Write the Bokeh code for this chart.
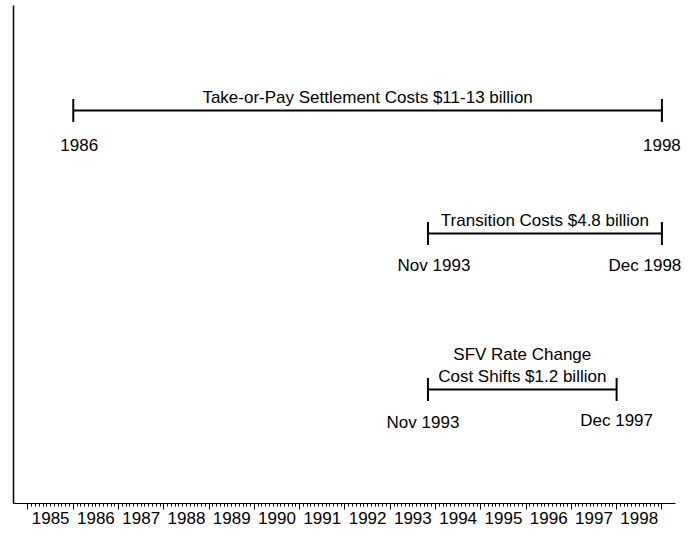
import numpy as np
from bokeh.plotting import figure
from bokeh.models import (ColumnDataSource, Range1d, FixedTicker, LinearAxis,
                          CustomJSTickFormatter, LabelSet)
from bokeh.core.properties import value
from bokeh.embed import file_html
from bokeh.resources import INLINE

# ---- data ----
events = ["Take-or-Pay Settlement Costs $11-13 billion",
          "Transition Costs $4.8 billion",
          "SFV Rate Change|Cost Shifts $1.2 billion"]
start_year = [1986, 1993, 1993]
start_month = [1, 11, 11]
end_year = [1998, 1998, 1997]
end_month = [12, 12, 12]
start_labels = ["1986", "Nov 1993", "Nov 1993"]
end_labels = ["1998", "Dec 1998", "Dec 1997"]
axis_years = list(range(1985, 1999))

# ---- layout / style ----
row_y = [393, 270, 114]
start_dx = [6, 6, -5]
end_dx = [0, -17, 0]
start_dy = [40, 37, 38]
end_dy = [40, 37, 36]
FONT = "Liberation Sans"
FS = "17px"
X0, X_AXIS_END, X1 = 1984.68, 1999.30, 1999.786

start = [y + (m - 1) / 12 for y, m in zip(start_year, start_month)]
end = [y + m / 12 for y, m in zip(end_year, end_month)]

p = figure(width=697, height=541, output_backend="svg",
           toolbar_location=None, x_range=Range1d(X0, X1),
           y_range=Range1d(0, 498), min_border_left=13, min_border_right=0,
           min_border_top=5, min_border_bottom=38)
p.outline_line_color = None
p.grid.visible = False
p.background_fill_color = "white"
p.border_fill_color = "white"

# left axis: just a line
p.yaxis.ticker = FixedTicker(ticks=[])
p.yaxis.major_tick_out = 0
p.yaxis.major_tick_in = 0
p.yaxis.minor_tick_out = 0
p.yaxis.minor_tick_in = 0
p.yaxis.major_label_standoff = 0
p.yaxis.axis_line_width = 1.5
p.yaxis.axis_line_color = "black"

# bottom axis: year boundary ticks + monthly minor ticks
boundaries = axis_years + [axis_years[-1] + 1]
months = [y + m / 12 for y in axis_years for m in range(1, 12)]
xa = p.xaxis[0]
xa.bounds = (X0, X_AXIS_END)
xa.ticker = FixedTicker(ticks=boundaries, minor_ticks=months)
xa.formatter = CustomJSTickFormatter(code="return '';")
xa.major_tick_out = 6
xa.major_tick_in = 0
xa.minor_tick_out = 3
xa.minor_tick_in = 0
xa.major_tick_line_color = "black"
xa.minor_tick_line_color = "black"
xa.axis_line_color = "black"
xa.axis_line_width = 1
xa.major_label_standoff = 0

lab_axis = LinearAxis(
    ticker=FixedTicker(ticks=[y + 0.5 for y in axis_years], minor_ticks=[]),
    formatter=CustomJSTickFormatter(code="return Math.floor(tick).toString();"),
    axis_line_color=None, major_tick_line_color=None, minor_tick_line_color=None,
    major_tick_out=0, major_tick_in=0, minor_tick_out=0, minor_tick_in=0,
    major_label_standoff=2, major_label_text_font=FONT,
    major_label_text_font_size=FS, major_label_text_color="black")
p.add_layout(lab_axis, "below")

# spans
src = ColumnDataSource(dict(x0=start, x1=end, y=row_y))
p.segment(x0="x0", x1="x1", y0="y", y1="y", source=src,
          line_color="black", line_width=2)
cap_src = ColumnDataSource(dict(x=start + end, y=row_y + row_y))
p.scatter(x="x", y="y", source=cap_src, marker="dash", angle=np.pi / 2,
          size=23, line_color="black", line_width=2)

# titles (lines split on |)
tx, ty, tt, toff = [], [], [], []
for i, ev in enumerate(events):
    parts = ev.split("|")
    n = len(parts)
    for j, part in enumerate(parts):
        tx.append((start[i] + end[i]) / 2)
        ty.append(row_y[i])
        tt.append(part)
        toff.append(8 + 22 * (n - 1 - j))
p.add_layout(LabelSet(
    x="x", y="y", text="t", y_offset="dy",
    source=ColumnDataSource(dict(x=tx, y=ty, t=tt, dy=toff)),
    text_align="center", text_baseline="alphabetic",
    text_font=value(FONT), text_font_size=value(FS), text_color="black"))

# end labels
lab_src = ColumnDataSource(dict(
    x=start + end, y=row_y + row_y, t=start_labels + end_labels,
    dx=start_dx + end_dx, dy=[-d for d in start_dy + end_dy]))
p.add_layout(LabelSet(
    x="x", y="y", text="t", x_offset="dx", y_offset="dy", source=lab_src,
    text_align="center", text_baseline="alphabetic",
    text_font=value(FONT), text_font_size=value(FS), text_color="black"))

open("out.html", "w").write(file_html(p, INLINE))
